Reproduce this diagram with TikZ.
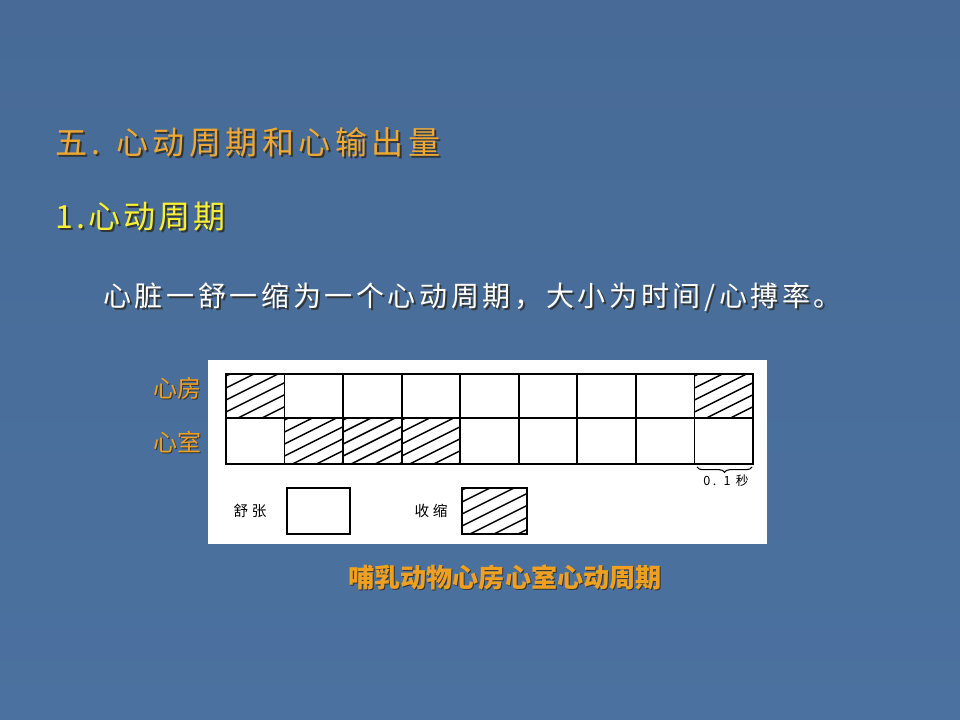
\documentclass[tikz,border=0pt]{standalone}
\usepackage{fontspec}
\setmainfont{Noto Sans CJK SC}
\newfontfamily\cjk{Noto Sans CJK SC}
\newfontfamily\cjktitle[LetterSpace=14]{Noto Sans CJK SC}
\newfontfamily\cjksub[LetterSpace=10]{Noto Sans CJK SC}
\newfontfamily\cjkbody[LetterSpace=13]{Noto Sans CJK SC}
\newfontfamily\cjksmall[LetterSpace=25]{Noto Sans CJK SC}
\newfontfamily\cjktiny[LetterSpace=20]{Noto Sans CJK SC}
\usetikzlibrary{decorations.pathreplacing}
\definecolor{bgtop}{HTML}{476B96}
\definecolor{bgmid}{HTML}{5579A5}
\definecolor{bgbot}{HTML}{4B71A0}
\definecolor{titleorange}{HTML}{F0A830}
\definecolor{subyellow}{HTML}{F8F030}
\definecolor{labelorange}{HTML}{F0A020}
\definecolor{shadowcol}{HTML}{2A2418}
\tikzset{
  gridline/.style={line width=1.4pt, black},
  hatchline/.style={line width=1.1pt, black},
  legendbox/.style={line width=1.4pt, black},
  shadowtext/.style={text=shadowcol, opacity=0.75},
  every node/.style={inner sep=0pt},
}
\newcommand{\hatchbox}[4]{%
  \begin{scope}
    \clip (#1,#2) rectangle (#3,#4);
    \foreach \c in {2,14,...,110} { \draw[hatchline] (#1,#2+\c) -- ++(90,-45); }
  \end{scope}}
\begin{document}
\begin{tikzpicture}[x=0.75pt,y=-0.75pt]
\useasboundingbox (0,0) rectangle (960,720);
\shade[top color=bgtop, middle color=bgmid, bottom color=bgbot] (0,0) rectangle (960,720);

% title
\node[shadowtext, anchor=west, font=\cjktitle\fontsize{24}{28}\selectfont] (titleS) at (57,144) {五. 心动周期和心输出量};
\node[text=titleorange, anchor=west, font=\cjktitle\fontsize{24}{28}\selectfont] (title) at (55,142) {五. 心动周期和心输出量};
% subtitle
\node[shadowtext, anchor=west, font=\cjksub\fontsize{24}{28}\selectfont] (subS) at (57,219) {1.心动周期};
\node[text=subyellow, anchor=west, font=\cjksub\fontsize{24}{28}\selectfont] (sub) at (55,217) {1.心动周期};
% body
\node[shadowtext, anchor=west, font=\cjkbody\fontsize{21}{25}\selectfont] (bodyS) at (105,299) {心脏一舒一缩为一个心动周期，大小为时间/心搏率。};
\node[text=white, anchor=west, font=\cjkbody\fontsize{21}{25}\selectfont] (body) at (103,297) {心脏一舒一缩为一个心动周期，大小为时间/心搏率。};

% white panel
\fill[white] (208,360) rectangle (767,544);

% hatching
\hatchbox{226}{374}{284.56}{418}
\hatchbox{694.48}{374}{753}{418}
\hatchbox{284.56}{418}{343.12}{464}
\hatchbox{343.12}{418}{401.68}{464}
\hatchbox{401.68}{418}{460.24}{464}

% grid
\draw[gridline] (226,374) rectangle (753,464);
\draw[gridline] (226,418) -- (753,418);
\foreach \i in {1,...,8} { \draw[gridline] (226+\i*58.56,374) -- (226+\i*58.56,464); }

% brace
\draw[line width=0.8pt, decorate, decoration={brace, mirror, amplitude=4pt}] (697,467) -- (752,467);
\node[font=\cjktiny\fontsize{9.5}{11}\selectfont] (tenth) at (726,481) {0. 1 秒};

% legend
\node[font=\cjksmall\fontsize{11}{13}\selectfont] (relax) at (250,511) {舒张};
\draw[legendbox] (287,488) rectangle (350,534);
\node[font=\cjksmall\fontsize{11}{13}\selectfont] (contract) at (431,511) {收缩};
\hatchbox{462}{488}{527}{534}
\draw[legendbox] (462,488) rectangle (527,534);

% row labels
\node[shadowtext, font=\cjk\fontsize{18}{20}\selectfont] (atriumS) at (178,389) {心房};
\node[text=labelorange, font=\cjk\fontsize{18}{20}\selectfont] (atrium) at (177,388) {心房};
\node[shadowtext, font=\cjk\fontsize{18}{20}\selectfont] (ventS) at (178,443) {心室};
\node[text=labelorange, font=\cjk\fontsize{18}{20}\selectfont] (vent) at (177,442) {心室};

% caption
\node[shadowtext, font=\cjk\bfseries\fontsize{19.6}{22}\selectfont] (capS) at (506,579) {哺乳动物心房心室心动周期};
\node[text=labelorange, font=\cjk\bfseries\fontsize{19.6}{22}\selectfont] (cap) at (505,578) {哺乳动物心房心室心动周期};
\end{tikzpicture}
\end{document}
